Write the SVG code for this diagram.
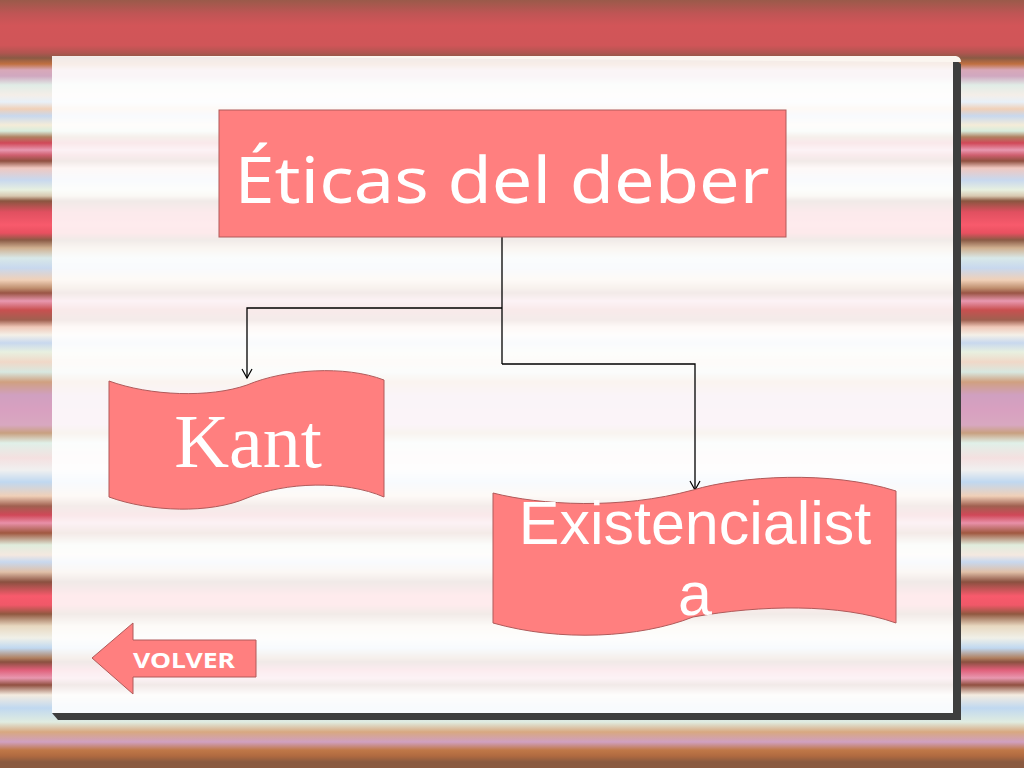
<svg xmlns="http://www.w3.org/2000/svg" width="1024" height="768" viewBox="0 0 1024 768">
<defs>
<linearGradient id="bg" gradientUnits="userSpaceOnUse" x1="0" y1="0" x2="0" y2="768">
<stop offset="0" stop-color="#9a5a4a"/>
<stop offset="0.018" stop-color="#c05555"/>
<stop offset="0.033" stop-color="#d25558"/>
<stop offset="0.059" stop-color="#d05558"/>
<stop offset="0.069" stop-color="#b05550"/>
<stop offset="0.0755" stop-color="#8a5a45"/>
<stop offset="0.0833" stop-color="#c07040"/>
<stop offset="0.0911" stop-color="#d8a8b8"/>
<stop offset="0.099" stop-color="#d0a8c0"/>
<stop offset="0.1107" stop-color="#e0ece6"/>
<stop offset="0.1237" stop-color="#f4eee8"/>
<stop offset="0.1328" stop-color="#e8f0f8"/>
<stop offset="0.1419" stop-color="#f0d0b8"/>
<stop offset="0.151" stop-color="#c8d8ee"/>
<stop offset="0.1628" stop-color="#f4ecd8"/>
<stop offset="0.1706" stop-color="#d8ecdc"/>
<stop offset="0.1784" stop-color="#b08060"/>
<stop offset="0.1862" stop-color="#d04858"/>
<stop offset="0.1953" stop-color="#e898b0"/>
<stop offset="0.2018" stop-color="#d06070"/>
<stop offset="0.2096" stop-color="#905040"/>
<stop offset="0.2188" stop-color="#f0c8c0"/>
<stop offset="0.2344" stop-color="#c8d8ee"/>
<stop offset="0.2474" stop-color="#e8f0e0"/>
<stop offset="0.2552" stop-color="#d8c8b0"/>
<stop offset="0.2617" stop-color="#8a5540"/>
<stop offset="0.276" stop-color="#e05060"/>
<stop offset="0.293" stop-color="#f85a6c"/>
<stop offset="0.3034" stop-color="#e85060"/>
<stop offset="0.3125" stop-color="#8a5a45"/>
<stop offset="0.3229" stop-color="#d0b090"/>
<stop offset="0.3359" stop-color="#d8e8e8"/>
<stop offset="0.349" stop-color="#c8d8ee"/>
<stop offset="0.3646" stop-color="#f0d0b8"/>
<stop offset="0.375" stop-color="#c09070"/>
<stop offset="0.3815" stop-color="#9a5545"/>
<stop offset="0.3919" stop-color="#e898b0"/>
<stop offset="0.4036" stop-color="#c85050"/>
<stop offset="0.4167" stop-color="#a06050"/>
<stop offset="0.4258" stop-color="#f0c8b8"/>
<stop offset="0.4362" stop-color="#f4f0e8"/>
<stop offset="0.4466" stop-color="#c8d8ee"/>
<stop offset="0.4583" stop-color="#e8f0e0"/>
<stop offset="0.4714" stop-color="#f0d8c8"/>
<stop offset="0.4844" stop-color="#d8e8e0"/>
<stop offset="0.4974" stop-color="#d0a080"/>
<stop offset="0.5143" stop-color="#d0a0c0"/>
<stop offset="0.5339" stop-color="#d8a0c0"/>
<stop offset="0.5534" stop-color="#d8a8c0"/>
<stop offset="0.5638" stop-color="#c8a080"/>
<stop offset="0.5768" stop-color="#e0f0e8"/>
<stop offset="0.5964" stop-color="#f4e0e0"/>
<stop offset="0.612" stop-color="#f0f0f0"/>
<stop offset="0.6276" stop-color="#c0d8f0"/>
<stop offset="0.6458" stop-color="#f0d0b8"/>
<stop offset="0.6589" stop-color="#a06050"/>
<stop offset="0.6706" stop-color="#d04858"/>
<stop offset="0.681" stop-color="#e890a8"/>
<stop offset="0.694" stop-color="#a05840"/>
<stop offset="0.7096" stop-color="#e0ecdc"/>
<stop offset="0.7227" stop-color="#f4e8e0"/>
<stop offset="0.7318" stop-color="#c8d8ee"/>
<stop offset="0.7448" stop-color="#e0c0a8"/>
<stop offset="0.7578" stop-color="#8a5040"/>
<stop offset="0.776" stop-color="#f85a6c"/>
<stop offset="0.7878" stop-color="#f05868"/>
<stop offset="0.7995" stop-color="#905840"/>
<stop offset="0.8151" stop-color="#e8d8c0"/>
<stop offset="0.8307" stop-color="#f0f0e8"/>
<stop offset="0.8438" stop-color="#c0d8f0"/>
<stop offset="0.8568" stop-color="#b08060"/>
<stop offset="0.862" stop-color="#8a5040"/>
<stop offset="0.8724" stop-color="#e0607a"/>
<stop offset="0.8828" stop-color="#e898b0"/>
<stop offset="0.8919" stop-color="#905040"/>
<stop offset="0.9049" stop-color="#f4ece0"/>
<stop offset="0.9219" stop-color="#c0d8f0"/>
<stop offset="0.9401" stop-color="#e0ece0"/>
<stop offset="0.9531" stop-color="#d8a880"/>
<stop offset="0.9661" stop-color="#d0a0c0"/>
<stop offset="0.9766" stop-color="#c07848"/>
<stop offset="0.9844" stop-color="#b06a40"/>
<stop offset="0.9922" stop-color="#8a5a40"/>
<stop offset="1" stop-color="#8a5a40"/>
</linearGradient>
<marker id="arr" markerWidth="12" markerHeight="12" refX="10" refY="6" orient="auto" markerUnits="userSpaceOnUse">
<polyline points="1,1 10,6 1,11" fill="none" stroke="#000" stroke-width="1.2"/>
</marker>
<style>
.shape{fill:#ff7f7f;stroke:#b05a5a;stroke-width:1}
.conn{fill:none;stroke:#000;stroke-width:1.3}
.wt{fill:#ffffff}
</style>
</defs>

<rect x="0" y="0" width="1024" height="768" fill="url(#bg)"/>

<g id="panel">
<path d="M953,58 L961,64 L961,720 L58,720 L52,713 Z" fill="#3e3e3e"/>
<rect x="52" y="56" width="901" height="657" fill="url(#bg)"/>
<rect x="52" y="56" width="901" height="657" fill="#ffffff" opacity="0.88"/>
<path d="M52,56 L956,56 Q961,57 961,62 L953,62 Z" fill="#fbf6f0"/>
</g>

<g id="connectors">
<line class="conn" x1="502" y1="237" x2="502" y2="364"/>
<polyline class="conn" points="502,308 247,308 247,378" marker-end="url(#arr)"/>
<polyline class="conn" points="502,364 695,364 695,490" marker-end="url(#arr)"/>
</g>

<g id="node-eticas">
<rect class="shape" x="219" y="110" width="567" height="127"/>
<text class="wt" x="502" y="203" text-anchor="middle" font-family="'Noto Sans', 'DejaVu Sans', sans-serif" font-size="64" textLength="535" lengthAdjust="spacingAndGlyphs">Éticas del deber</text>
</g>

<g id="node-kant">
<path class="shape" d="M109,381 C150,396 210,398 247,385 C285,369 345,365 384,380 L384,497 C345,480 285,482 247,498 C210,514 150,512 109,497 Z"/>
<text class="wt" x="248" y="467" text-anchor="middle" font-family="'Liberation Serif', 'Times New Roman', serif" font-size="76">Kant</text>
</g>

<g id="node-existencialista">
<path class="shape" d="M493,493 C540,505 620,510 693,490 C740,476 830,470 896,491 L896,623 C840,603 760,605 693,617 C640,638 560,642 493,623 Z"/>
<text class="wt" font-family="'Liberation Sans', Arial, sans-serif" font-size="61" text-anchor="middle"><tspan x="695" y="544">Existencialist</tspan><tspan x="695" y="615">a</tspan></text>
</g>

<g id="node-volver">
<path class="shape" d="M92,658 L133,623 L133,640 L256,640 L256,677 L133,677 L133,694 Z"/>
<text class="wt" x="184" y="668" text-anchor="middle" font-family="'Noto Sans', 'DejaVu Sans', sans-serif" font-size="21" font-weight="bold" textLength="102" lengthAdjust="spacingAndGlyphs">VOLVER</text>
</g>
</svg>
